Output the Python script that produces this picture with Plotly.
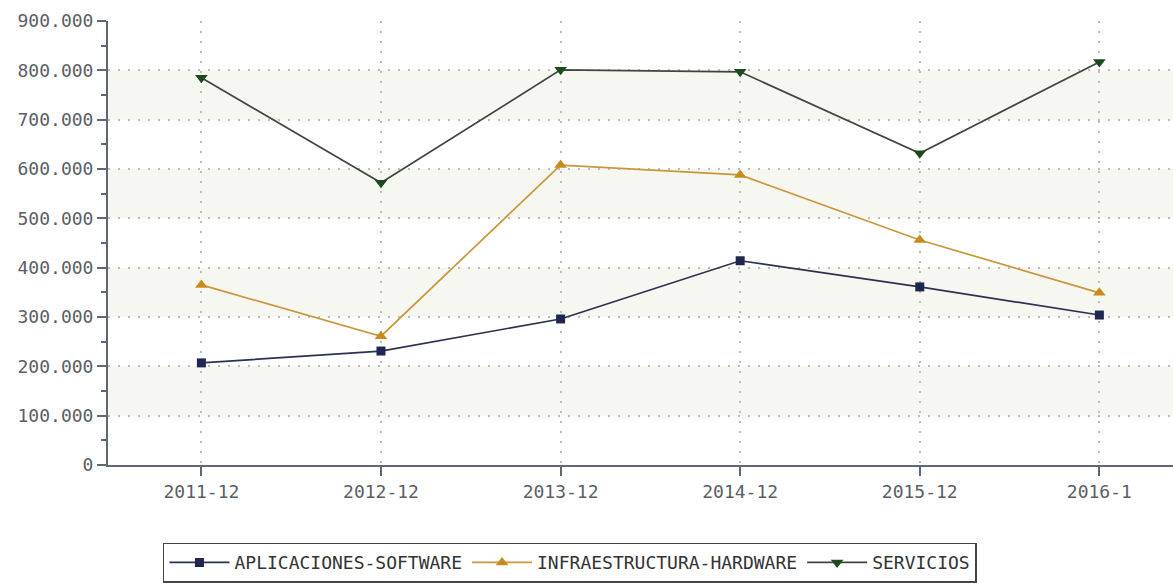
import plotly.graph_objects as go

categories = ["2011-12", "2012-12", "2013-12", "2014-12", "2015-12", "2016-1"]
aplicaciones = [207000, 231000, 296000, 414000, 361000, 304000]
infraestructura = [365000, 261000, 608000, 588000, 456000, 349000]
servicios = [785000, 572000, 801000, 797000, 632000, 817000]

series_names = ["APLICACIONES-SOFTWARE", "INFRAESTRUCTURA-HARDWARE", "SERVICIOS"]
y_ticks = [0, 100000, 200000, 300000, 400000, 500000, 600000, 700000, 800000, 900000]

fig = go.Figure()
specs = [
    (aplicaciones, series_names[0], "#1f2750", "#2b3152", "square", 9),
    (infraestructura, series_names[1], "#c88c1c", "#c9973a", "triangle-up", 11),
    (servicios, series_names[2], "#1c4a1c", "#3d473d", "triangle-down", 11),
]
xs = list(range(len(categories)))
for vals, name, mcol, lcol, sym, size in specs:
    fig.add_trace(go.Scatter(
        x=xs, y=vals, name=name, mode="lines+markers",
        line=dict(color=lcol, width=1.7),
        marker=dict(symbol=sym, size=size, color=mcol),
    ))

# alternating background bands
shapes = []
for i in range(len(y_ticks) - 1):
    if i % 2 == 1:
        shapes.append(dict(type="rect", xref="paper", yref="y", x0=0, x1=1,
                           y0=y_ticks[i], y1=y_ticks[i + 1],
                           fillcolor="#f7f7f1", line=dict(width=0), layer="below"))

font_main = "DejaVu Sans Mono"
fig.update_layout(
    width=1173, height=583,
    margin=dict(l=108, r=0, t=21, b=118),
    paper_bgcolor="white", plot_bgcolor="white",
    separators=",.",
    shapes=shapes,
    showlegend=True,
    legend=dict(orientation="h", x=0.0516, xanchor="left", y=-0.175, yanchor="top",
                bordercolor="#444", borderwidth=1.5, bgcolor="white",
                font=dict(family=font_main, size=18, color="#333"),
                itemwidth=60, tracegroupgap=0),
    font=dict(family=font_main, size=17, color="#5a5e66"),
)
grid_dash = "2px,8px"
fig.update_xaxes(
    range=[-0.52, 5.41], tickmode="array", tickvals=xs, ticktext=categories,
    showline=True, linecolor="#5f6872", linewidth=2,
    ticks="outside", ticklen=9, tickcolor="#5f6872", tickwidth=2,
    showgrid=True, gridcolor="#bdbdbd", griddash=grid_dash, gridwidth=1.5,
    zeroline=False, tickfont=dict(family=font_main, size=18, color="#5a5e66"),
)
fig.update_yaxes(
    range=[0, 900000], tickmode="array", tickvals=y_ticks,
    tickformat=",.0f",
    showline=True, linecolor="#5f6872", linewidth=2,
    ticks="outside", ticklen=9, tickcolor="#5f6872", tickwidth=2,
    minor=dict(dtick=50000, ticks="outside", ticklen=5, tickcolor="#5f6872", tickwidth=2, showgrid=False),
    showgrid=True, gridcolor="#bdbdbd", griddash=grid_dash, gridwidth=1.5,
    zeroline=False, tickfont=dict(family=font_main, size=18, color="#5a5e66"),
)
fig.write_html("out.html")
